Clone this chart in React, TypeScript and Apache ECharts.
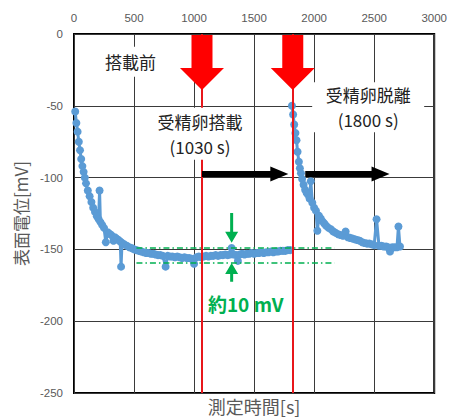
import React, { useEffect, useRef } from "react";
import * as echarts from "echarts";

// ---- data ----
const xTickMin = 0;
const xTickMax = 3000;
const xTickStep = 500;
const yTickMin = -250;
const yTickMax = 0;
const yTickStep = 50;

// segment 1: before / while the egg is loaded
const seg1Time = [
  10, 20, 30, 40, 50, 60, 70, 80, 90, 100, 115, 130, 145, 160, 175, 190, 205, 213, 220, 235,
  250, 265, 280, 295, 310, 329, 340, 355, 370, 385, 392, 400, 420, 440, 460, 480, 500, 520, 540, 560,
  580, 600, 620, 640, 660, 680, 700, 720, 740, 763, 780, 800, 820, 840, 860, 880, 900, 920, 940, 960,
  980, 1000, 1020, 1040, 1060, 1080, 1100, 1120, 1140, 1160, 1180, 1200, 1220, 1240, 1260, 1280, 1300, 1313, 1330, 1350,
  1365, 1380, 1400, 1420, 1440, 1460, 1480, 1500, 1520, 1540, 1560, 1580, 1600, 1620, 1640, 1660, 1680, 1700, 1720, 1740,
  1760, 1780, 1800,
];
const seg1Value = [
  -54, -62, -68, -75, -81, -87, -92, -96, -100, -104, -109, -113, -117, -121, -124, -127, -129, -109, -131, -133,
  -135, -145, -138, -139, -140, -144, -141.5, -142.5, -143.5, -144.5, -162, -145.5, -146.5, -147.5, -148.5, -149, -150, -150.5, -151, -151.5,
  -152, -152.5, -152.5, -153, -153, -153.5, -154, -154, -154.5, -162, -154.5, -155, -155, -155.5, -155, -155.5, -156, -155.5, -156, -156,
  -156.5, -160, -155.5, -155, -155.5, -155, -154.5, -155, -154.5, -154.5, -154, -154.5, -154, -154, -153.5, -154, -153.5, -149, -153.5, -154,
  -158, -153.5, -153, -153.5, -153, -153, -152.5, -153, -152.5, -152.5, -152, -152.5, -152, -152, -151.5, -152, -151.5, -151.5, -151, -151,
  -151, -150.5, -150.5,
];

// segment 2: after the egg is removed
const seg2Time = [
  1815, 1825, 1834, 1844, 1853, 1862, 1873, 1881, 1890, 1900, 1912, 1925, 1937, 1950, 1962, 1972, 1985, 2000, 2015, 2027,
  2040, 2055, 2070, 2085, 2100, 2120, 2140, 2160, 2180, 2200, 2220, 2240, 2262, 2280, 2300, 2320, 2340, 2360, 2380, 2400,
  2420, 2440, 2460, 2480, 2500, 2520, 2540, 2560, 2580, 2600, 2615, 2632, 2650, 2670, 2690, 2702, 2715,
];
const seg2Value = [
  -50, -56, -63, -69, -74, -82, -89, -93.5, -97, -101, -105, -108.5, -110.5, -112, -114.5, -102.5, -117.5, -121, -123, -137,
  -126.5, -128.5, -130.5, -132, -133.5, -135, -136, -137.5, -138.5, -139.5, -140, -140.5, -137.5, -141.5, -142, -142.5, -143, -143.5, -144, -145,
  -145.5, -146, -146, -146.5, -147, -129, -147.5, -147.5, -148, -148, -148.5, -151.5, -148.5, -148.5, -148.5, -134, -148,
];

// events (where the red lines are drawn) and their labels
const eventTimes = [1066, 1822];
const eventLabels = ["受精卵搭載\n(1030 s)", "受精卵脱離\n(1800 s)"];
const beforeLabel = "搭載前";

// green reference band (≈10 mV)
const bandLevels = [-149, -159];
const bandRange = [520, 2170];
const bandLabel = "約10 mV";

// ---- styles ----
const BLUE = "#5b9bd5";
const RED = "#ff0000";
const GREEN = "#00b050";
const GREY = "#595959";
const CJK = "'Noto Sans CJK JP', 'Noto Sans', sans-serif";
const NUM = "'Liberation Sans', Arial, sans-serif";

export default function App() {
  const ref = useRef<HTMLDivElement>(null);

  useEffect(() => {
    if (!ref.current) return;
    const chart = echarts.init(ref.current, null, { renderer: "svg" });

    const option: any = {
      animation: false,
      backgroundColor: "#ffffff",
      grid: {
        left: 74,
        top: 34,
        right: 13,
        bottom: 23,
        show: true,
        borderColor: "#000",
        borderWidth: 2,
        backgroundColor: "transparent",
      },
      xAxis: [
        {
          type: "value",
          position: "top",
          min: xTickMin,
          max: xTickMax,
          interval: xTickStep,
          axisLine: { show: false },
          axisTick: { show: false },
          axisLabel: {
            color: GREY,
            fontSize: 11.5,
            fontFamily: NUM,
            margin: 10,
            formatter: (v: number) => String(v),
          },
          splitLine: { show: true, lineStyle: { color: "#3a3a3a", width: 1 } },
        },
        {
          type: "value",
          position: "bottom",
          min: xTickMin,
          max: xTickMax,
          axisLine: { show: false },
          axisTick: { show: false },
          axisLabel: { show: false },
          splitLine: { show: false },
          name: "測定時間[s]",
          nameLocation: "middle",
          nameGap: 4,
          nameTextStyle: { color: GREY, fontSize: 18, fontFamily: CJK },
        },
      ],
      yAxis: {
        type: "value",
        min: yTickMin,
        max: yTickMax,
        interval: yTickStep,
        axisLine: { show: false },
        axisTick: { show: false },
        axisLabel: {
          color: GREY,
          fontSize: 11.5,
          fontFamily: NUM,
          margin: 11,
          formatter: (v: number) => String(v),
        },
        splitLine: { show: true, lineStyle: { color: "#3a3a3a", width: 1 } },
        name: "表面電位[mV]",
        nameLocation: "middle",
        nameGap: 43,
        nameTextStyle: { color: GREY, fontSize: 17, fontFamily: CJK },
      },
      series: [
        {
          type: "line",
          data: seg1Time.map((t, i) => [t, seg1Value[i]]),
          symbol: "circle",
          symbolSize: 8,
          lineStyle: { color: BLUE, width: 3 },
          itemStyle: { color: BLUE },
          z: 3,
          markLine: {
            silent: true,
            symbol: "none",
            label: { show: false },
            lineStyle: { color: GREEN, width: 1.5, type: [6, 3, 1.5, 3] },
            data: bandLevels.map((v) => [{ coord: [bandRange[0], v] }, { coord: [bandRange[1], v] }]),
          },
        },
        {
          type: "line",
          data: seg2Time.map((t, i) => [t, seg2Value[i]]),
          symbol: "circle",
          symbolSize: 8,
          lineStyle: { color: BLUE, width: 3 },
          itemStyle: { color: BLUE },
          z: 3,
          markLine: {
            silent: true,
            symbol: "none",
            label: { show: false },
            lineStyle: { color: "#e8161b", width: 2, type: "solid" },
            data: eventTimes.map((t) => ({ xAxis: t })),
          },
        },
      ],
    };
    chart.setOption(option);

    const px = (t: number, v: number) => chart.convertToPixel({ seriesIndex: 0 }, [t, v]) as number[];
    const top = px(0, 0)[1];

    const g: any[] = [];

    // text boxes (white background hides grid and red lines)
    const addNote = (text: string, t: number, v: number, w: number, h: number) => {
      const [cx, cy] = px(t, v);
      g.push({
        type: "rect",
        z: 20,
        shape: { x: cx - w / 2, y: cy - h / 2, width: w, height: h },
        style: { fill: "#ffffff" },
      });
      g.push({
        type: "text",
        z: 21,
        x: cx,
        y: cy,
        style: {
          text,
          fill: "#222",
          fontSize: 17,
          fontFamily: CJK,
          align: "center",
          verticalAlign: "middle",
          lineHeight: 25,
        },
      });
    };
    addNote(beforeLabel, 470, -19.3, 60, 30);
    addNote(eventLabels[0], 1050, -69.5, 92, 52);
    addNote(eventLabels[1], 2450, -51, 112, 50);

    // red arrows
    eventTimes.forEach((t) => {
      const cx = px(t, 0)[0];
      const y0 = top + 1;
      const yh = top + 34;
      const yt = top + 56;
      g.push({
        type: "polygon",
        z: 25,
        shape: {
          points: [
            [cx - 10.5, y0],
            [cx + 10.5, y0],
            [cx + 10.5, yh],
            [cx + 22, yh],
            [cx, yt],
            [cx - 22, yh],
            [cx - 10.5, yh],
          ],
        },
        style: { fill: RED },
      });
    });

    // black arrows
    const blackY = -97.5;
    const blackArrows = [
      [eventTimes[0], 1785],
      [1926, 2628],
    ];
    blackArrows.forEach(([a, b]) => {
      const [x0, y] = px(a, blackY);
      const x1 = px(b, blackY)[0];
      const hl = 18;
      g.push({
        type: "polygon",
        z: 22,
        shape: {
          points: [
            [x0, y - 3],
            [x1 - hl, y - 3],
            [x1 - hl, y - 7.5],
            [x1, y],
            [x1 - hl, y + 7.5],
            [x1 - hl, y + 3],
            [x0, y + 3],
          ],
        },
        style: { fill: "#000" },
      });
    });

    // green arrows
    const gT = 1313;
    const gx = px(gT, 0)[0];
    const dTop = px(gT, -124.7)[1];
    const dTip = px(gT, -145.3)[1];
    const uTip = px(gT, -159.5)[1];
    const uBot = px(gT, -172.5)[1];
    g.push({
      type: "polygon",
      z: 22,
      shape: {
        points: [
          [gx - 1.5, dTop],
          [gx + 1.5, dTop],
          [gx + 1.5, dTip - 11],
          [gx + 6.5, dTip - 11],
          [gx, dTip],
          [gx - 6.5, dTip - 11],
          [gx - 1.5, dTip - 11],
        ],
      },
      style: { fill: GREEN },
    });
    g.push({
      type: "polygon",
      z: 22,
      shape: {
        points: [
          [gx - 1.5, uBot],
          [gx + 1.5, uBot],
          [gx + 1.5, uTip + 11],
          [gx + 6.5, uTip + 11],
          [gx, uTip],
          [gx - 6.5, uTip + 11],
          [gx - 1.5, uTip + 11],
        ],
      },
      style: { fill: GREEN },
    });
    const [tx, ty] = px(1430, -188);
    g.push({
      type: "text",
      z: 22,
      x: tx,
      y: ty,
      style: {
        text: bandLabel,
        fill: GREEN,
        fontSize: 19,
        fontWeight: "bold",
        fontFamily: CJK,
        align: "center",
        verticalAlign: "middle",
      },
    });

    chart.setOption({ graphic: g });

    return () => chart.dispose();
  }, []);

  return (
    <div
      ref={ref}
      style={{ position: "absolute", left: 0, top: 0, width: 450, height: 420 }}
    />
  );
}
